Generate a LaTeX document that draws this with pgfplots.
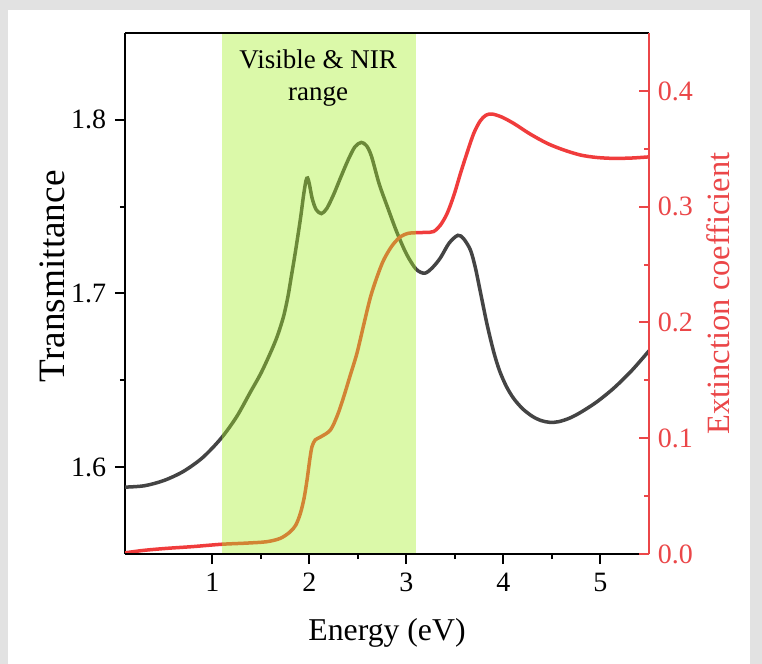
\documentclass[border=0pt]{standalone}
\usepackage{fontspec}
\setmainfont{Liberation Serif}
\usepackage{pgfplots}
\pgfplotsset{compat=1.18}

\definecolor{curvegray}{RGB}{68,68,68}
\definecolor{curvered}{RGB}{240,60,60}
\definecolor{axisred}{RGB}{235,70,72}
\definecolor{bandgreen}{RGB}{167,242,42}
\definecolor{pagegray}{RGB}{226,226,226}

\pgfplotstableread{
x T
0.10 1.5885
0.30 1.5893
0.50 1.5923
0.70 1.5975
0.90 1.6055
1.09 1.6166
1.25 1.6290
1.39 1.6430
1.50 1.6540
1.60 1.6660
1.67 1.6755
1.735 1.6870
1.78 1.6985
1.81 1.7085
1.856 1.7240
1.907 1.7427
1.94 1.7565
1.965 1.7650
1.982 1.7665
2.00 1.7630
2.03 1.7545
2.07 1.7483
2.124 1.7460
2.18 1.7490
2.25 1.7570
2.32 1.7665
2.40 1.7770
2.47 1.7845
2.536 1.7870
2.59 1.7850
2.64 1.7790
2.72 1.7630
2.81 1.7490
2.90 1.7355
3.00 1.7228
3.10 1.7140
3.19 1.7117
3.27 1.7150
3.35 1.7205
3.44 1.7290
3.53 1.7335
3.59 1.7315
3.66 1.7250
3.71 1.7150
3.763 1.7007
3.83 1.6825
3.90 1.6663
3.96 1.6555
4.03 1.6465
4.106 1.6395
4.20 1.6335
4.30 1.6292
4.39 1.6268
4.48 1.6258
4.57 1.6262
4.68 1.6282
4.794 1.6315
4.96 1.6375
5.137 1.6455
5.32 1.6555
5.50 1.6670
}\transdata

\pgfplotstableread{
x k
0.10 0.0010
0.30 0.0032
0.536 0.0049
0.80 0.0064
1.093 0.0084
1.35 0.0094
1.56 0.0106
1.70 0.0135
1.80 0.0190
1.86 0.0250
1.907 0.0350
1.945 0.0480
1.976 0.0640
2.005 0.0820
2.027 0.0927
2.06 0.0985
2.113 0.1010
2.216 0.1070
2.29 0.1200
2.354 0.1358
2.42 0.1540
2.49 0.1733
2.56 0.1980
2.63 0.2220
2.70 0.2400
2.766 0.2540
2.85 0.2660
2.938 0.2740
3.02 0.2770
3.10 0.2775
3.20 0.2778
3.28 0.2785
3.35 0.2840
3.42 0.2942
3.49 0.3100
3.557 0.3287
3.625 0.3465
3.694 0.3633
3.76 0.3740
3.82 0.3790
3.883 0.3800
3.98 0.3775
4.106 0.3719
4.27 0.3630
4.45 0.3547
4.62 0.3490
4.794 0.3446
4.96 0.3425
5.137 0.3417
5.32 0.3420
5.50 0.3430
}\extdata

\begin{document}
\begin{tikzpicture}
% page background and white card
\fill[pagegray] (-50bp,-44bp) rectangle (254.8bp,221.6bp);
\fill[white] (-46.8bp,-44bp) rectangle (250bp,217.6bp);

\pgfplotsset{
  common/.style={
    at={(0,0)}, anchor=south west,
    scale only axis, width=209.6bp, height=208.4bp,
    xmin=0.1, xmax=5.5,
    axis line style={-, line width=0.8bp},
    major tick length=4bp, minor tick length=2bp,
    every tick/.style={line width=0.8bp},
    tick label style={font=\fontsize{11.2bp}{13bp}\selectfont},
    /pgf/number format/assume math mode=true,
  },
}

\begin{axis}[common,
  ymin=1.55, ymax=1.85,
  axis x line*=bottom, axis y line*=left,
  tick align=outside,
  xtick={1,2,3,4,5}, minor x tick num=1,
  ytick={1.6,1.7,1.8}, minor y tick num=1,
  yticklabel style={/pgf/number format/.cd, fixed, fixed zerofill, precision=1},
  xlabel={Energy (eV)}, ylabel={Transmittance},
  xlabel style={font=\fontsize{12.7bp}{14bp}\selectfont, at={(axis description cs:0.5,-0.152)}, anchor=center},
  ylabel style={font=\fontsize{14.9bp}{16bp}\selectfont, at={(axis description cs:-0.139,0.533)}, anchor=center},
]
\addplot[curvegray, line width=1.4bp, smooth, tension=0.5] table[x=x, y=T] {\transdata};
\end{axis}

\begin{axis}[common,
  ymin=0, ymax=0.45,
  axis x line=none, axis y line*=right,
  axis on top,
  tick align=inside,
  ytick={0,0.1,0.2,0.3,0.4}, minor y tick num=1,
  y axis line style={axisred},
  ytick style={axisred},
  yticklabel style={axisred, /pgf/number format/.cd, fixed, fixed zerofill, precision=1},
  ylabel={Extinction coefficient},
  ylabel style={axisred, font=\fontsize{13bp}{15bp}\selectfont, at={(axis description cs:1.132,0.5)}, anchor=center},
]
\addplot[curvered, line width=1.4bp, smooth, tension=0.5] table[x=x, y=k] {\extdata};
\fill[bandgreen, fill opacity=0.4] (axis cs:1.1,0) rectangle (axis cs:3.1,0.45);
\draw[black, line width=0.8bp] (rel axis cs:0,0) -- (rel axis cs:1,0);
\draw[black, line width=0.8bp] (rel axis cs:0,1) -- (rel axis cs:1,1);
\node[align=center, font=\fontsize{10.8bp}{12.8bp}\selectfont, anchor=center]
  at (axis cs:2.09,0.411) {Visible \& NIR\\range};
\end{axis}

\pgfresetboundingbox
\useasboundingbox (-50bp,-44bp) rectangle (254.8bp,221.6bp);
\end{tikzpicture}
\end{document}
